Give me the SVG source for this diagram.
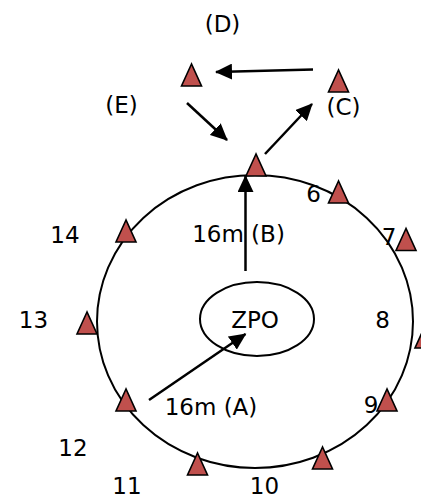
<svg xmlns="http://www.w3.org/2000/svg" xmlns:xlink="http://www.w3.org/1999/xlink" width="421" height="499" viewBox="0 0 421 499">
<style>
.lbl{font-family:"DejaVu Sans","Liberation Sans",sans-serif;font-size:23px;fill:#000;text-anchor:middle}
.ring{fill:none;stroke:#000;stroke-width:2}
.tri{fill:#C0504D;stroke:#000;stroke-width:1.6;stroke-linejoin:miter}
.arr{stroke:#000;stroke-width:2.5;fill:none;marker-end:url(#ah)}
</style>
<defs>
<marker id="ah" markerUnits="userSpaceOnUse" markerWidth="18" markerHeight="16" refX="16" refY="8" orient="auto">
<path d="M0,0 L17,8 L0,16 Z" fill="#000"/>
</marker>
<polygon id="t" class="tri" points="0,-11 -10,11 10,11"/>
</defs>
<rect width="421" height="499" fill="#fff"/>
<g id="outer-ring"><ellipse class="ring" cx="255" cy="321.5" rx="158" ry="146.5"/></g>
<g id="zpo"><ellipse class="ring" cx="257" cy="319" rx="57" ry="37"/><text class="lbl" x="255" y="328">ZPO</text></g>
<g id="connectors">
<line class="arr" x1="313" y1="69.5" x2="216" y2="72"/>
<line class="arr" x1="187" y1="103" x2="227" y2="140"/>
<line class="arr" x1="265" y1="154" x2="312" y2="104"/>
<line class="arr" x1="245.5" y1="271" x2="245.5" y2="176"/>
<line class="arr" x1="149" y1="400" x2="245.5" y2="334"/>
</g>
<g id="node-D"><use xlink:href="#t" x="191.5" y="75"/><text class="lbl" x="222.5" y="32">(D)</text></g>
<g id="label-E"><text class="lbl" x="121.5" y="113">(E)</text></g>
<g id="node-C"><use xlink:href="#t" x="338.5" y="81"/><text class="lbl" x="343.5" y="115">(C)</text></g>
<g id="node-B"><use xlink:href="#t" x="256" y="165"/></g>
<g id="label-B"><text class="lbl" x="238.5" y="242">16m (B)</text></g>
<g id="label-A"><text class="lbl" x="211" y="415">16m (A)</text></g>
<g id="node-6"><use xlink:href="#t" x="338.5" y="192"/><text class="lbl" x="313.5" y="202">6</text></g>
<g id="node-7"><use xlink:href="#t" x="406" y="239.5"/><text class="lbl" x="389" y="245">7</text></g>
<g id="node-8"><use xlink:href="#t" x="425" y="337"/><text class="lbl" x="382.5" y="328">8</text></g>
<g id="node-9"><use xlink:href="#t" x="387" y="400"/><text class="lbl" x="371" y="413">9</text></g>
<g id="node-10"><use xlink:href="#t" x="322.5" y="458"/><text class="lbl" x="264.5" y="494">10</text></g>
<g id="node-11"><use xlink:href="#t" x="197.5" y="464"/><text class="lbl" x="127" y="494">11</text></g>
<g id="node-12"><use xlink:href="#t" x="126" y="400"/><text class="lbl" x="73" y="456">12</text></g>
<g id="node-13"><use xlink:href="#t" x="87" y="323"/><text class="lbl" x="33.5" y="328">13</text></g>
<g id="node-14"><use xlink:href="#t" x="126" y="231"/><text class="lbl" x="65" y="243">14</text></g>
</svg>
